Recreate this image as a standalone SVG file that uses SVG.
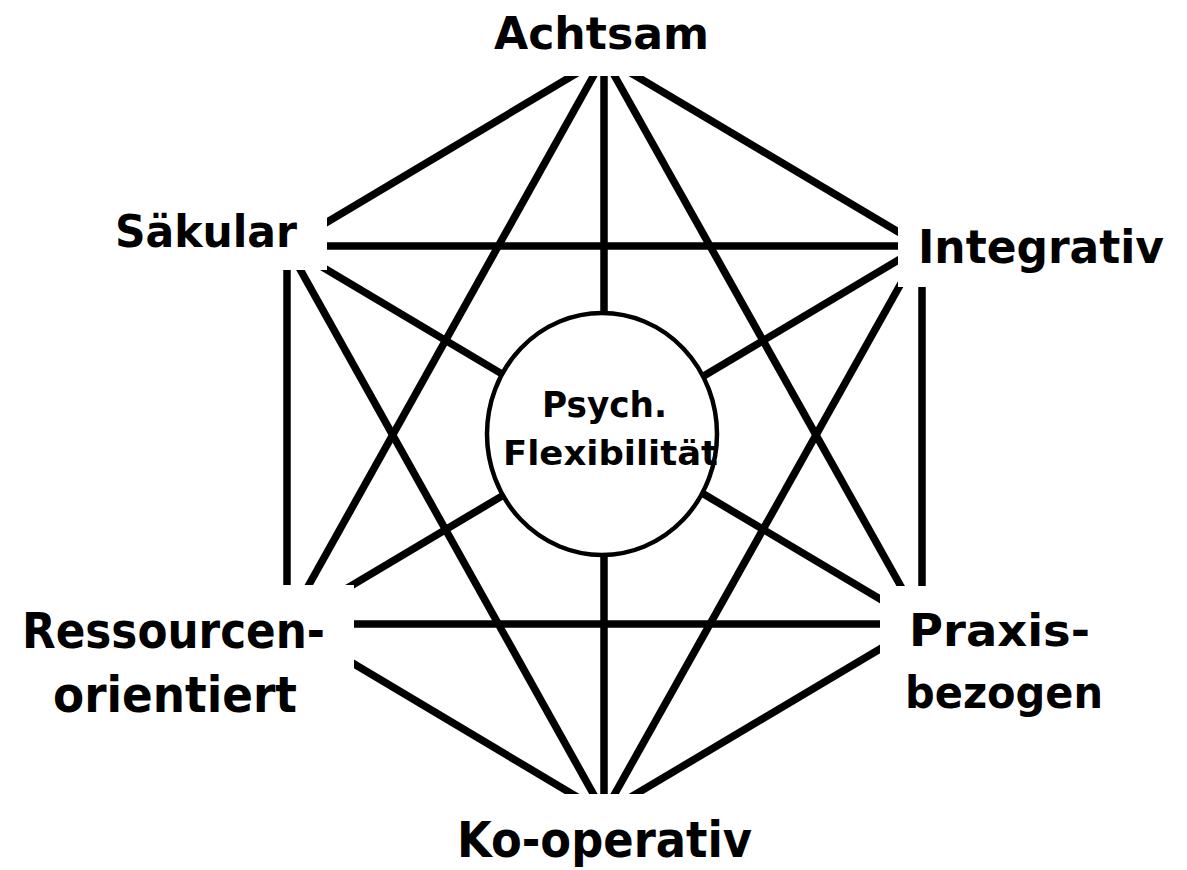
<svg xmlns="http://www.w3.org/2000/svg" width="1187" height="870" viewBox="0 0 1187 870">
  <style>
    .edge { stroke: #000; stroke-width: 7.5; fill: none; stroke-linecap: butt; }
    .bg { fill: #fff; stroke: none; }
    .lbl { font-family: "DejaVu Sans", "Liberation Sans", sans-serif; font-weight: bold; fill: #000; }
    .center { fill: #fff; stroke: #000; stroke-width: 4.5; }
  </style>
  <rect x="0" y="0" width="1187" height="870" fill="#fff"/>
  <g id="connectors">
    <line class="edge" x1="604" y1="57" x2="287" y2="246"/>
    <line class="edge" x1="604" y1="57" x2="922" y2="246"/>
    <line class="edge" x1="287" y1="246" x2="287" y2="624"/>
    <line class="edge" x1="922" y1="246" x2="922" y2="624"/>
    <line class="edge" x1="287" y1="624" x2="604" y2="813"/>
    <line class="edge" x1="922" y1="624" x2="604" y2="813"/>
    <line class="edge" x1="604" y1="57" x2="287" y2="624"/>
    <line class="edge" x1="604" y1="57" x2="922" y2="624"/>
    <line class="edge" x1="287" y1="246" x2="922" y2="246"/>
    <line class="edge" x1="287" y1="624" x2="922" y2="624"/>
    <line class="edge" x1="287" y1="246" x2="604" y2="813"/>
    <line class="edge" x1="922" y1="246" x2="604" y2="813"/>
    <line class="edge" x1="604" y1="57" x2="604" y2="813"/>
    <line class="edge" x1="287" y1="246" x2="922" y2="624"/>
    <line class="edge" x1="922" y1="246" x2="287" y2="624"/>
  </g>
  <g id="node-achtsam">
    <rect class="bg" x="470" y="0" width="270" height="76"/>
    <text class="lbl" x="494" y="49" font-size="45" textLength="215" lengthAdjust="spacingAndGlyphs">Achtsam</text>
  </g>
  <g id="node-saekular">
    <rect class="bg" x="95" y="195" width="232" height="75"/>
    <text class="lbl" x="115" y="247" font-size="44" textLength="182" lengthAdjust="spacingAndGlyphs">Säkular</text>
  </g>
  <g id="node-integrativ">
    <rect class="bg" x="898" y="205" width="282" height="82"/>
    <text class="lbl" x="918" y="263" font-size="47" textLength="246" lengthAdjust="spacingAndGlyphs">Integrativ</text>
  </g>
  <g id="node-ressourcen">
    <rect class="bg" x="5" y="585" width="349" height="170"/>
    <text class="lbl" x="22" y="648" font-size="50" textLength="303" lengthAdjust="spacingAndGlyphs">Ressourcen-</text>
    <text class="lbl" x="53" y="712" font-size="50" textLength="244" lengthAdjust="spacingAndGlyphs">orientiert</text>
  </g>
  <g id="node-praxis">
    <rect class="bg" x="880" y="586" width="300" height="169"/>
    <text class="lbl" x="909" y="646" font-size="45" textLength="181" lengthAdjust="spacingAndGlyphs">Praxis-</text>
    <text class="lbl" x="905" y="708" font-size="45" textLength="198" lengthAdjust="spacingAndGlyphs">bezogen</text>
  </g>
  <g id="node-kooperativ">
    <rect class="bg" x="430" y="794" width="360" height="72"/>
    <text class="lbl" x="457" y="857" font-size="49" textLength="295" lengthAdjust="spacingAndGlyphs">Ko-operativ</text>
  </g>
  <g id="node-center">
    <ellipse class="center" cx="602" cy="434" rx="115" ry="121"/>
    <text class="lbl" x="542" y="417" font-size="36" textLength="125" lengthAdjust="spacingAndGlyphs">Psych.</text>
    <text class="lbl" x="503" y="465" font-size="34" textLength="215" lengthAdjust="spacingAndGlyphs">Flexibilität</text>
  </g>
</svg>
